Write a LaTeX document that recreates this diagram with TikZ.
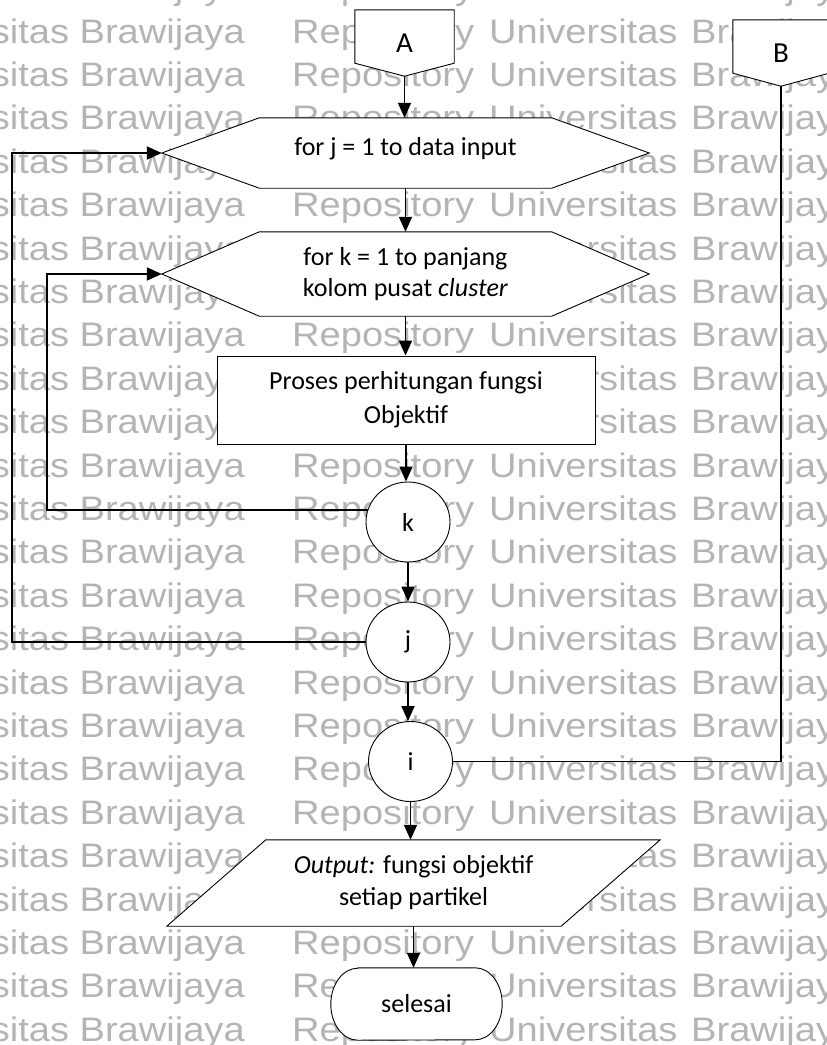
\documentclass[tikz,border=0pt]{standalone}
\usepackage{fontspec}
\setmainfont{Carlito}
\newfontfamily\wmfont{Liberation Sans}
\usetikzlibrary{arrows.meta,calc,shapes.geometric}
\pgfdeclarelayer{wmlayer}
\pgfdeclarelayer{shapes}
\pgfsetlayers{wmlayer,shapes,main}
\definecolor{wmgray}{RGB}{180,180,180}

\begin{document}
\begin{tikzpicture}[x=1pt,y=-1pt,
  body/.style={draw=none, inner sep=0pt, align=center, font=\fontsize{26}{32}\selectfont},
  conn/.style={body, font=\fontsize{29}{32}\selectfont},
  outline/.style={draw=black, line width=0.9pt, fill=white},
  circ/.style={ellipse, draw=black, line width=0.9pt, fill=white, minimum width=84pt,
               minimum height=80pt, inner sep=0pt, font=\fontsize{26}{32}\selectfont},
  flow/.style={line width=1.8pt, -{Triangle[length=15pt,width=13pt]}},
  link/.style={line width=1.5pt},
  wm/.style={inner sep=0pt, text=wmgray, font=\wmfont\fontsize{34}{34}\selectfont, xscale=1.12}
]
\useasboundingbox (0,0) rectangle (827,1045);

% repeated background lettering
\begin{pgfonlayer}{wmlayer}
\foreach \n [count=\c] in {-1,...,23}{
  \pgfmathsetmacro\yy{43+43.4*\n}
  \node[wm, anchor=base east] (wa\c) at (245,\yy) {Universitas Brawijaya};
  \node[wm, anchor=base west] (wb\c) at (292,\yy) {Repository};
  \node[wm, anchor=base west] (wc\c) at (489,\yy) {Universitas};
  \node[wm, anchor=base west] (wd\c) at (691,\yy) {Brawijaya};
}
\end{pgfonlayer}

% off-page connectors
\node[conn, minimum width=99pt, minimum height=66pt] (A) at (404.5,43) {A};
\node[conn, minimum width=96pt, minimum height=66pt] (B) at (781,53) {B};

% loop headers
\node[body, minimum width=292pt, minimum height=70pt, text height=11pt, text depth=7pt] (h1) at (405.5,153)
  {for j = 1 to data input};
\node[body, minimum width=292pt, minimum height=84pt, font=\fontsize{26}{31}\selectfont] (h2) at (405.5,274)
  {for k = 1 to panjang\\kolom pusat \textit{cluster}};

% process
\node[body, outline, minimum width=378pt, minimum height=88pt, font=\fontsize{26}{34}\selectfont] (proc) at (406,400)
  {Proses perhitungan fungsi\\Objektif};

% loop ends
\node[circ] (k) at (408,522) {k};
\node[circ] (j) at (408,642) {j};
\node[circ] (i) at (410.5,761.5) {i};

% output and terminator
\node[body, minimum width=394pt, minimum height=86pt] (out) at (413.5,883)
  {\textit{Output:} fungsi objektif\\setiap partikel};
\node[body, minimum width=171pt, minimum height=72pt] (sel) at (416.5,1004) {selesai};

\begin{pgfonlayer}{shapes}
  \draw[outline] (A.north west) -- (A.north east) -- ($(A.south east)+(0,13pt)$)
    -- (A.south) -- ($(A.south west)+(0,13pt)$) -- cycle;
  \draw[outline] (B.north west) -- (B.north east) -- ($(B.south east)+(0,13pt)$)
    -- (B.south) -- ($(B.south west)+(0,13pt)$) -- cycle;
  \draw[outline] (h1.north west) -- (h1.north east) -- ($(h1.east)+(97.5pt,0)$) coordinate (h1e)
    -- (h1.south east) -- (h1.south west) -- ($(h1.west)+(-97.5pt,0)$) coordinate (h1w) -- cycle;
  \draw[outline] (h2.north west) -- (h2.north east) -- ($(h2.east)+(97.5pt,0)$) coordinate (h2e)
    -- (h2.south east) -- (h2.south west) -- ($(h2.west)+(-97.5pt,0)$) coordinate (h2w) -- cycle;
  \draw[outline] ($(out.north west)+(49.5pt,0)$) -- ($(out.north east)+(49.5pt,0)$)
    -- ($(out.south east)+(-49.5pt,0)$) -- ($(out.south west)+(-49.5pt,0)$) -- cycle;
  \draw[outline] ($(sel.north west)+(27pt,0)$) -- ($(sel.north east)+(-27pt,0)$)
    arc[start angle=90, end angle=-90, x radius=27pt, y radius=36pt]
    -- ($(sel.south west)+(27pt,0)$)
    arc[start angle=270, end angle=90, x radius=27pt, y radius=36pt] -- cycle;
\end{pgfonlayer}

% main flow
\draw[flow] (A.south) -- (A.south |- h1.north);
\draw[flow] (h1.south) -- (h1.south |- h2.north);
\draw[flow] (h2.south) -- (h2.south |- proc.north);
\draw[flow] (proc.south) -- (proc.south |- k.north);
\draw[flow] (k.south) -- (k.south |- j.north);
\draw[flow] (j.south) -- (j.south |- i.north);
\draw[flow] (i.south) -- (i.south |- out.north);
\draw[flow] (out.south) -- (out.south |- sel.north);

% loop returns
\coordinate (kloop) at (47,0);
\coordinate (jloop) at (12,0);
\draw[flow] (k.163) -- (k.163 -| kloop) |- (h2w);
\draw[flow] (j.west) -- (j.west -| jloop) |- (h1w);
\draw[link] (B.south) |- (i.east);
\end{tikzpicture}
\end{document}
